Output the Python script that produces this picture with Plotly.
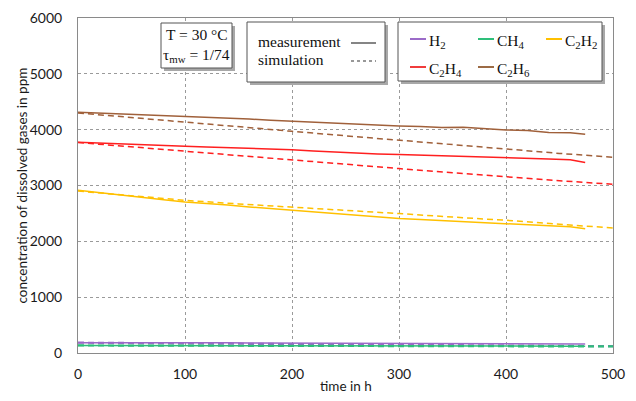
import plotly.graph_objects as go

# ---------------- data ----------------
t_meas = [0, 20, 40, 60, 80, 100, 120, 140, 160, 180, 200, 220, 240, 260, 280,
          300, 320, 340, 360, 380, 400, 420, 440, 460, 474]
h2_meas = [185, 185, 186, 187, 195, 188, 185, 182, 180, 178, 176, 175, 174, 172, 171,
           170, 169, 168, 167, 166, 165, 164, 163, 162, 160]
ch4_meas = [135, 135, 134, 134, 133, 133, 132, 131, 131, 130, 130, 129, 128, 128, 127,
            126, 126, 125, 125, 124, 124, 123, 122, 122, 121]
c2h2_meas = [2915, 2870, 2830, 2785, 2745, 2705, 2680, 2650, 2615, 2585, 2556, 2520, 2485, 2455, 2430,
             2407, 2390, 2370, 2355, 2335, 2318, 2300, 2275, 2260, 2225]
c2h4_meas = [3775, 3760, 3735, 3728, 3715, 3702, 3690, 3680, 3660, 3655, 3640, 3620, 3600, 3575, 3565,
             3555, 3545, 3530, 3520, 3515, 3500, 3485, 3475, 3460, 3410]
c2h6_meas = [4310, 4295, 4285, 4268, 4260, 4245, 4230, 4215, 4190, 4168, 4150, 4125, 4108, 4090, 4078,
             4066, 4055, 4040, 4045, 4020, 3995, 3985, 3950, 3945, 3920]

t_sim = [0, 50, 100, 150, 200, 250, 300, 350, 400, 450, 500]
h2_sim = [185, 178, 172, 165, 159, 153, 147, 141, 135, 128, 122]
ch4_sim = [135, 133, 131, 130, 128, 126, 124, 122, 121, 119, 117]
c2h2_sim = [2900, 2815, 2735, 2670, 2615, 2560, 2497, 2435, 2377, 2305, 2239]
c2h4_sim = [3770, 3690, 3610, 3530, 3455, 3380, 3303, 3228, 3153, 3085, 3022]
c2h6_sim = [4300, 4215, 4137, 4055, 3971, 3890, 3810, 3730, 3649, 3575, 3505]

x_ticks = [0, 100, 200, 300, 400, 500]
y_ticks = [0, 1000, 2000, 3000, 4000, 5000, 6000]

gas_names = ["H<sub>2</sub>", "CH<sub>4</sub>", "C<sub>2</sub>H<sub>2</sub>",
             "C<sub>2</sub>H<sub>4</sub>", "C<sub>2</sub>H<sub>6</sub>"]
gas_colors = ["#9B6BC8", "#2EBF7A", "#FFC000", "#FF1F1F", "#A0603A"]
legend_colors = ["#9B6BC8", "#2EBF7A", "#FFC000", "#F03C3C", "#9C6B45"]

meas = [h2_meas, ch4_meas, c2h2_meas, c2h4_meas, c2h6_meas]
sims = [h2_sim, ch4_sim, c2h2_sim, c2h4_sim, c2h6_sim]

# ---------------- figure ----------------
W, H = 636, 401
ML, MR, MT, MB = 78, 23, 18, 48
PW, PH = W - ML - MR, H - MT - MB


def px(x):
    return (x - ML) / PW


def py(y):
    return (H - MB - y) / PH


fig = go.Figure()
for i in range(5):
    wd = 2.2 if i < 2 else 1.5
    fig.add_trace(go.Scatter(x=t_sim, y=sims[i], mode="lines",
                             line=dict(color=gas_colors[i], width=wd, dash="6px,4px"),
                             showlegend=False, hoverinfo="skip"))
for i in range(5):
    fig.add_trace(go.Scatter(x=t_meas, y=meas[i], mode="lines",
                             line=dict(color=gas_colors[i], width=1.5),
                             showlegend=False, hoverinfo="skip"))

tick_font = dict(family="Lato, Open Sans, sans-serif", size=14, color="#1a1a1a")
axis_common = dict(showline=True, linecolor="#8a8a8a", linewidth=1, mirror=True,
                   gridcolor="#9a9a9a", griddash="dot", gridwidth=1, automargin=False,
                   zeroline=False, ticks="", tickfont=tick_font)
fig.update_xaxes(range=[0, 500], tickvals=x_ticks, ticklabelstandoff=8, **axis_common)
fig.update_yaxes(range=[0, 6000], tickvals=y_ticks, ticklabelstandoff=12, **axis_common)

shapes = []
annotations = []
serif = dict(family="Liberation Serif, Times New Roman, serif", size=15.5, color="#111")


def box(x0, y0, x1, y1):
    shapes.append(dict(type="rect", xref="paper", yref="paper",
                       x0=px(x0 + 3), x1=px(x1 + 3), y0=py(y0 + 3), y1=py(y1 + 3),
                       fillcolor="#a8a8a8", line=dict(width=0), layer="above"))
    shapes.append(dict(type="rect", xref="paper", yref="paper",
                       x0=px(x0), x1=px(x1), y0=py(y0), y1=py(y1),
                       fillcolor="white", line=dict(color="#555", width=1), layer="above"))


def hline(x0, x1, y, color, width=1.5, dash="solid"):
    shapes.append(dict(type="line", xref="paper", yref="paper",
                       x0=px(x0), x1=px(x1), y0=py(y), y1=py(y),
                       line=dict(color=color, width=width, dash=dash), layer="above"))


def text(x, y, s, anchor="left"):
    annotations.append(dict(xref="paper", yref="paper", x=px(x), y=py(y), text=s,
                            showarrow=False, xanchor=anchor, yanchor="middle",
                            font=serif))


# box 1: conditions
box(161, 23, 232, 68)
text(196.5, 35, "T = 30 °C", "center")
text(196.5, 56, "τ<sub>mw</sub> = 1/74", "center")

# box 2: line styles
box(247, 22, 385, 82)
text(256, 42, "measurement")
text(256, 60, "simulation")
hline(351, 376, 43, "#333", 1.2)
hline(351, 376, 61, "#333", 1.2, "3px,3px")

# box 3: gases
box(398, 22, 602, 81)
pos = [(410, 39), (478, 39), (546, 39), (410, 67), (478, 67)]
for i, (x0, y0) in enumerate(pos):
    hline(x0, x0 + 16, y0, legend_colors[i], 2)
    text(x0 + 17, y0 + 2, gas_names[i])

# axis titles
title_font = dict(family="Lato, Open Sans, sans-serif", size=13.5, color="#1a1a1a")
annotations.append(dict(xref="paper", yref="paper", x=px(21), y=0.5,
                        text="concentration of dissolved gases in ppm", textangle=-90,
                        showarrow=False, xanchor="center", yanchor="middle", font=title_font))
annotations.append(dict(xref="paper", yref="paper", x=0.5, y=py(386),
                        text="time in h", showarrow=False,
                        xanchor="center", yanchor="middle", font=title_font))

fig.update_layout(width=W, height=H, margin=dict(l=ML, r=MR, t=MT, b=MB),
                  paper_bgcolor="white", plot_bgcolor="white",
                  shapes=shapes, annotations=annotations, showlegend=False)

fig.write_html("out.html", config={"displayModeBar": False},
               post_script="document.body.style.margin='0';document.body.style.overflow='hidden';")
